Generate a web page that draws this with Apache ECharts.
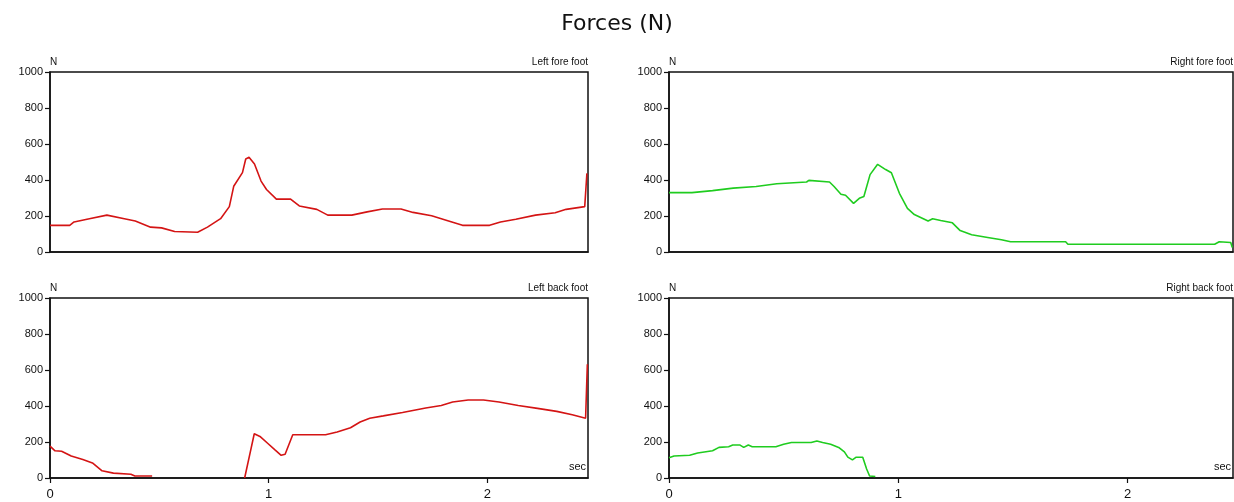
<!DOCTYPE html>
<html>
<head>
<meta charset="utf-8">
<script src="https://cdn.jsdelivr.net/npm/echarts@6/dist/echarts.min.js"></script>
<style>
html,body{margin:0;padding:0;background:#fff;}
#c{width:1234px;height:502px;}
</style>
</head>
<body>
<div id="c"></div>
<script>
// ---- data ----
const chartTitle = 'Forces (N)';
const panelNames = ['Left fore foot', 'Right fore foot', 'Left back foot', 'Right back foot'];
const yTicks = [0, 200, 400, 600, 800, 1000];
const xTicks = [0, 1, 2];
const xMax = 2.46;

const lffTime  = [0, 0.09, 0.11, 0.18, 0.26, 0.34, 0.39, 0.46, 0.51, 0.57, 0.675, 0.72, 0.78, 0.82, 0.84, 0.88, 0.895, 0.91, 0.935, 0.965, 0.99, 1.035, 1.10, 1.14, 1.22, 1.27, 1.38, 1.45, 1.52, 1.605, 1.66, 1.745, 1.83, 1.886, 2.01, 2.06, 2.13, 2.22, 2.31, 2.36, 2.445, 2.455];
const lffForce = [148, 148, 167, 185, 205, 185, 172, 138, 134, 114, 110, 138, 185, 252, 365, 441, 517, 526, 489, 394, 347, 294, 294, 256, 237, 205, 205, 223, 239, 239, 220, 201, 170, 148, 148, 167, 182, 205, 218, 237, 252, 437];

const rffTime  = [0, 0.1, 0.19, 0.28, 0.38, 0.47, 0.6, 0.61, 0.70, 0.72, 0.75, 0.77, 0.805, 0.83, 0.85, 0.877, 0.91, 0.945, 0.97, 1.005, 1.04, 1.07, 1.13, 1.15, 1.185, 1.236, 1.27, 1.32, 1.39, 1.45, 1.49, 1.73, 1.74, 2.38, 2.40, 2.45, 2.457];
const rffForce = [330, 330, 341, 355, 364, 379, 389, 398, 389, 364, 321, 315, 270, 298, 308, 430, 487, 458, 440, 326, 242, 208, 172, 185, 175, 162, 119, 96, 81, 68, 57, 57, 43, 43, 57, 53, 25];

const lbfTime  = [0, 0.023, 0.053, 0.097, 0.15, 0.194, 0.238, 0.29, 0.37, 0.388, 0.467, 0.6, 0.89, 0.916, 0.934, 0.96, 0.995, 1.03, 1.057, 1.075, 1.11, 1.26, 1.313, 1.374, 1.418, 1.462, 1.524, 1.612, 1.718, 1.789, 1.841, 1.912, 1.982, 2.053, 2.141, 2.229, 2.317, 2.388, 2.449, 2.457];
const lbfForce = [177, 151, 149, 122, 103, 84, 40, 27, 21, 11, 11, null, 0, 145, 246, 231, 193, 155, 126, 132, 240, 240, 256, 279, 311, 332, 345, 364, 389, 403, 422, 433, 433, 422, 403, 387, 370, 351, 332, 632];

const rbfTime  = [0, 0.022, 0.09, 0.125, 0.19, 0.218, 0.26, 0.278, 0.31, 0.326, 0.346, 0.363, 0.466, 0.5, 0.534, 0.62, 0.645, 0.67, 0.705, 0.74, 0.765, 0.78, 0.8, 0.815, 0.845, 0.862, 0.875, 0.9];
const rbfForce = [113, 122, 126, 139, 151, 170, 174, 183, 183, 170, 183, 174, 174, 187, 197, 197, 206, 197, 187, 170, 145, 116, 101, 115, 115, 50, 11, 8];

const seriesColors = ['#d41414', '#1fcc1f', '#d41414', '#1fcc1f'];

// ---- build ----
const pairs = (ts, vs) => ts.map((t, i) => [t, vs[i] === null ? '-' : vs[i]]);
const allData = [pairs(lffTime, lffForce), pairs(rffTime, rffForce), pairs(lbfTime, lbfForce), pairs(rbfTime, rbfForce)];

const W = 1234;
const grids = [
  {left: 50, top: 72, width: 538, height: 180},
  {left: 669, top: 72, width: 564, height: 180},
  {left: 50, top: 298, width: 538, height: 180},
  {left: 669, top: 298, width: 564, height: 180}
];
const font = 'Liberation Sans, Arial, sans-serif';

const option = {
  animation: false,
  backgroundColor: '#fff',
  title: [{text: chartTitle, left: 'center', top: 8,
           textStyle: {fontFamily: 'DejaVu Sans', fontWeight: 'normal', fontSize: 22, color: '#111'}}],
  grid: grids.map(g => Object.assign({show: true, borderColor: '#111', borderWidth: 1.5, backgroundColor: '#fff'}, g)),
  xAxis: grids.map((g, i) => ({
    gridIndex: i, type: 'value', min: 0, max: xMax, interval: 1,
    axisLine: {show: true, onZero: false, lineStyle: {color: '#111', width: 1.5}},
    axisTick: {show: i >= 2, length: 5, lineStyle: {color: '#111', width: 1.2},
               customValues: i >= 2 ? xTicks : undefined},
    axisLabel: {show: i >= 2, fontSize: 13, color: '#111', fontFamily: font, margin: 10,
                customValues: i >= 2 ? xTicks : undefined},
    splitLine: {show: false}
  })),
  yAxis: grids.map((g, i) => ({
    gridIndex: i, type: 'value', min: 0, max: 1000, interval: 200,
    name: 'N', nameLocation: 'end', nameGap: 5,
    nameTextStyle: {fontSize: 10, color: '#111', fontFamily: font, align: 'left'},
    axisLine: {show: true, lineStyle: {color: '#111', width: 1.5}},
    axisTick: {show: true, length: 5, lineStyle: {color: '#111', width: 1.2}, customValues: yTicks},
    axisLabel: {fontSize: 11, color: '#111', fontFamily: font, margin: 7, customValues: yTicks,
                formatter: v => String(v)},
    splitLine: {show: false}
  })),
  graphic: [],
  series: allData.map((d, i) => ({
    type: 'line', xAxisIndex: i, yAxisIndex: i, data: d, showSymbol: false,
    connectNulls: false, clip: true,
    lineStyle: {color: seriesColors[i], width: 1.6}
  }))
};

// panel labels and 'sec' labels
grids.forEach((g, i) => {
  option.graphic.push({
    type: 'text', right: W - (g.left + g.width), top: g.top - 15,
    style: {text: panelNames[i], fontSize: 10, fill: '#111', fontFamily: font}
  });
  if (i >= 2) {
    option.graphic.push({
      type: 'text', right: W - (g.left + g.width) + 2, top: g.top + g.height - 17,
      style: {text: 'sec', fontSize: 11, fill: '#111', fontFamily: font}
    });
  }
});

const chart = echarts.init(document.getElementById('c'), null, {renderer: 'canvas'});
chart.setOption(option);
</script>
</body>
</html>
